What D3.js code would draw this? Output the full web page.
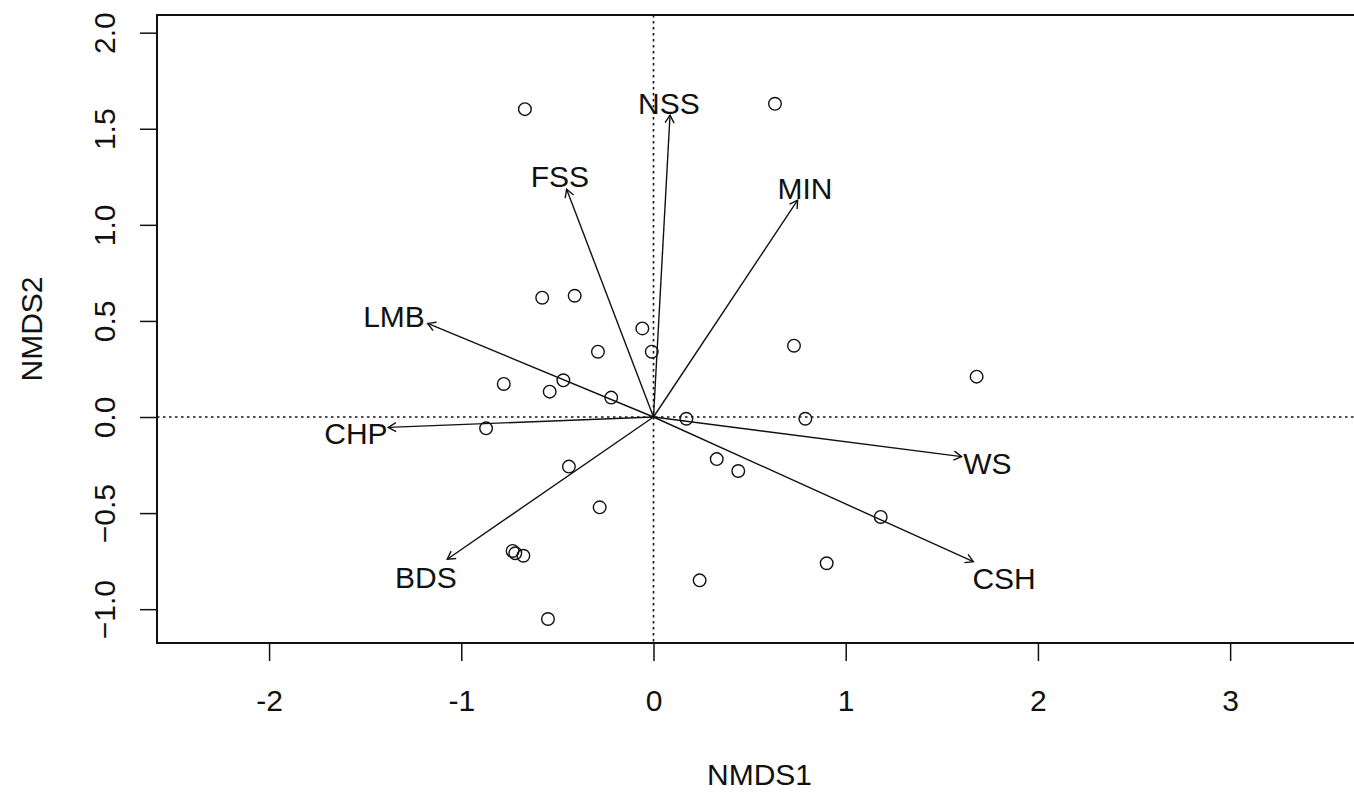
<!DOCTYPE html>
<html>
<head>
<meta charset="utf-8">
<script src="https://cdn.jsdelivr.net/npm/d3@7"></script>
<style>
  body { margin: 0; background: #fff; }
  text { font-family: "Liberation Sans", Arial, sans-serif; fill: #111; }
</style>
</head>
<body>
<svg id="nmds" width="1354" height="793"></svg>
<script>
// site scores (NMDS1, NMDS2)
var siteX = [-0.669, 0.632, -0.579, -0.410, -0.058, -0.009, -0.289, 0.731, -0.779, -0.469,
             -0.540, -0.220, 0.171, 0.790, -0.871, 0.329, 0.441, -0.440, -0.280, 1.182,
             -0.733, -0.719, -0.677, 0.901, 0.240, -0.549, 1.681];
var siteY = [1.602, 1.630, 0.621, 0.631, 0.461, 0.340, 0.340, 0.371, 0.172, 0.191,
             0.132, 0.101, -0.009, -0.009, -0.059, -0.219, -0.281, -0.258, -0.470, -0.520,
             -0.697, -0.709, -0.722, -0.761, -0.850, -1.051, 0.210];

// envfit vectors
var vecNames = ["NSS", "FSS", "MIN", "LMB", "CHP", "BDS", "WS", "CSH"];
var vecX = [0.086, -0.452, 0.750, -1.175, -1.380, -1.073, 1.603, 1.664];
var vecY = [1.571, 1.185, 1.129, 0.487, -0.054, -0.740, -0.206, -0.753];
// where the labels sit
var labX = [0.080, -0.487, 0.788, -1.350, -1.548, -1.184, 1.737, 1.824];
var labY = [1.634, 1.255, 1.193, 0.525, -0.082, -0.832, -0.238, -0.839];

var xTicks = [-2, -1, 0, 1, 2, 3];
var yTicks = [-1.0, -0.5, 0.0, 0.5, 1.0, 1.5, 2.0];

var svg = d3.select("#nmds");
var dims = { left: 157, right: 1362, top: 15, bottom: 643 };
var fontSize = 30;

var xScale = d3.scaleLinear().domain([-2.583, 3.686]).range([dims.left, dims.right]);
var yScale = d3.scaleLinear().domain([-1.176, 2.092]).range([dims.bottom, dims.top]);

//Axes
var xAxis = svg.append("g")
    .attr("transform", `translate(0,${dims.bottom})`)
    .call(d3.axisBottom(xScale).tickValues(xTicks).tickSize(18).tickPadding(29)
        .tickFormat(d => d < 0 ? "-" + Math.abs(d) : d));
xAxis.select(".domain").remove();
xAxis.selectAll("line").attr("stroke", "#111").attr("stroke-width", 1.5);
xAxis.selectAll("text").attr("font-size", fontSize).attr("font-family", "Liberation Sans, Arial, sans-serif").attr("fill", "#111");

var yAxis = svg.append("g")
    .attr("transform", `translate(${dims.left},0)`)
    .call(d3.axisLeft(yScale).tickValues(yTicks).tickSize(17).tickFormat(d3.format(".1f")));
yAxis.select(".domain").remove();
yAxis.selectAll("line").attr("stroke", "#111").attr("stroke-width", 1.5);
yAxis.selectAll("text")
    .attr("font-size", fontSize).attr("font-family", "Liberation Sans, Arial, sans-serif").attr("fill", "#111")
    .attr("x", null).attr("dy", null)
    .attr("text-anchor", "middle")
    .attr("transform", "translate(-42,0) rotate(-90)");

//Axis titles
svg.append("text")
    .attr("x", (dims.left + dims.right) / 2).attr("y", 785)
    .attr("text-anchor", "middle").attr("font-size", fontSize)
    .text("NMDS1");
svg.append("text")
    .attr("transform", `translate(42,${(dims.top + dims.bottom) / 2}) rotate(-90)`)
    .attr("text-anchor", "middle").attr("font-size", fontSize)
    .text("NMDS2");

//Reference lines at zero
svg.append("line")
    .attr("x1", dims.left).attr("x2", dims.right)
    .attr("y1", yScale(0)).attr("y2", yScale(0))
    .attr("stroke", "#111").attr("stroke-width", 1.6).attr("stroke-dasharray", "2.5,3.5");
svg.append("line")
    .attr("x1", xScale(0)).attr("x2", xScale(0))
    .attr("y1", dims.top).attr("y2", dims.bottom)
    .attr("stroke", "#111").attr("stroke-width", 1.6).attr("stroke-dasharray", "2.5,3.5");

//Sites
svg.append("g")
    .selectAll("circle")
    .data(siteX)
    .enter()
    .append("circle")
    .attr("cx", d => xScale(d))
    .attr("cy", (d, i) => yScale(siteY[i]))
    .attr("r", 6.3)
    .attr("fill", "none")
    .attr("stroke", "#111")
    .attr("stroke-width", 1.4);

//Vectors
var ox = xScale(0), oy = yScale(0);
var arrows = svg.append("g").attr("stroke", "#111").attr("stroke-width", 1.4).attr("fill", "none");
vecNames.forEach((name, i) => {
    var tx = xScale(vecX[i]), ty = yScale(vecY[i]);
    arrows.append("line").attr("x1", ox).attr("y1", oy).attr("x2", tx).attr("y2", ty);
    var ang = Math.atan2(ty - oy, tx - ox);
    var len = 9, spread = Math.PI / 6;
    var p = d3.path();
    p.moveTo(tx - len * Math.cos(ang - spread), ty - len * Math.sin(ang - spread));
    p.lineTo(tx, ty);
    p.lineTo(tx - len * Math.cos(ang + spread), ty - len * Math.sin(ang + spread));
    arrows.append("path").attr("d", p.toString());
});

svg.append("g")
    .selectAll("text")
    .data(vecNames)
    .enter()
    .append("text")
    .attr("x", (d, i) => xScale(labX[i]))
    .attr("y", (d, i) => yScale(labY[i]))
    .attr("dy", "0.36em")
    .attr("text-anchor", "middle")
    .attr("font-size", fontSize)
    .text(d => d);

//Plot box (right edge falls outside the picture)
svg.append("rect")
    .attr("x", dims.left).attr("y", dims.top)
    .attr("width", dims.right - dims.left).attr("height", dims.bottom - dims.top)
    .attr("fill", "none").attr("stroke", "#111").attr("stroke-width", 2);
</script>
</body>
</html>
